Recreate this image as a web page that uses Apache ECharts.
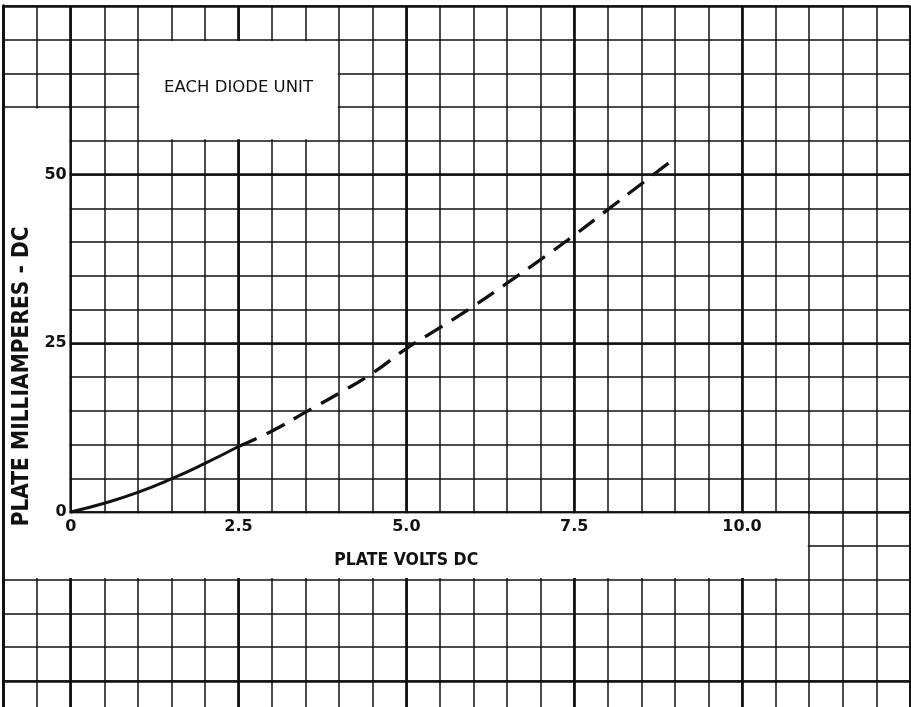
<!DOCTYPE html>
<html>
<head>
<meta charset="utf-8">
<title>Each diode unit - plate characteristic</title>
<script src="https://cdn.jsdelivr.net/npm/echarts@6/dist/echarts.min.js"></script>
<style>
html, body { margin: 0; padding: 0; background: #fff; }
#chart { width: 911px; height: 707px; }
</style>
</head>
<body>
<div id="chart"></div>
<script>
// measured part of the curve (solid) and the extrapolated part (dashed)
var voltsSolid = [0, 0.5, 1.0, 1.5, 2.0, 2.5];
var maSolid = [0, 1.3, 2.9, 4.9, 7.2, 9.7];
var voltsDashed = [2.5, 3.0, 3.5, 4.0, 4.5, 5.0, 5.5, 6.0, 6.5, 7.0, 7.5, 8.0, 8.5, 9.0];
var maDashed = [9.7, 12.0, 14.8, 17.6, 20.6, 24.2, 27.3, 30.5, 33.9, 37.4, 41.0, 44.8, 48.6, 52.4];

var xTicks = [0, 2.5, 5.0, 7.5, 10.0];
var yTicks = [0, 25, 50];

var noteText = 'EACH DIODE UNIT';
var xName = 'PLATE VOLTS DC';
var yName = 'PLATE MILLIAMPERES - DC';

// sheet layout: where 0 V / 0 mA sit and how big one unit is, in px
var x0 = 70.7, y0 = 512;
var pxV = 67.13, pxMa = 6.75;
var sheetTop = y0 - 75 * pxMa;
var ink = '#111';
var thin = 1.5, thick = 2.7;

function pairs(xs, ys) {
	var out = [];
	for (var i = 0; i < xs.length; i++) out.push([xs[i], ys[i]]);
	return out;
}

// white boxes cut out of the grid paper, kept just inside the ruling
var dx = 1.4 / pxV, dy = 1.4 / pxMa;
function box(x1, y1, x2, y2, extra) {
	var a = { xAxis: x1 + dx, yAxis: y2 - dy };
	if (extra) for (var k in extra) a[k] = extra[k];
	return [a, { xAxis: x2 - dx, yAxis: y1 + dy }];
}

function off() { return { show: false }; }
function labelFont(extra) {
	var o = { fontFamily: 'DejaVu Sans', fontWeight: 'bold', fontSize: 16, color: ink };
	for (var k in extra) o[k] = extra[k];
	return o;
}
function nameFont(size, padding) {
	return { fontFamily: 'DejaVu Sans Condensed', fontWeight: 'bold', fontSize: size, color: ink, padding: padding };
}

var myChart = echarts.init(document.getElementById('chart'), null, { renderer: 'canvas' });

var option = {
	backgroundColor: '#fff',
	animation: false,
	grid: [
		// 0: fine verticals, full sheet height
		{ left: x0 - pxV, width: 13.5 * pxV, top: sheetTop, height: 707 - sheetTop },
		// 1: heavy verticals every 2.5 V
		{ left: x0, width: 12.5 * pxV, top: sheetTop, height: 707 - sheetTop },
		// 2: horizontals + the curve
		{ left: x0 - pxV, width: 13.5 * pxV, top: sheetTop, height: 100 * pxMa },
		// 3: labels only, origin at the corner
		{ left: x0, width: 12.5 * pxV, top: sheetTop, height: 75 * pxMa }
	],
	xAxis: [
		{
			type: 'value', gridIndex: 0, min: -1, max: 12.5, interval: 0.5,
			axisLine: { show: false, onZero: false }, axisTick: off(), axisLabel: off(),
			splitLine: { show: true, lineStyle: { color: ink, width: thin } }
		},
		{
			type: 'value', gridIndex: 1, min: 0, max: 12.5, interval: 2.5,
			axisLine: { show: false, onZero: false }, axisTick: off(), axisLabel: off(),
			splitLine: { show: true, lineStyle: { color: ink, width: thick } }
		},
		{ type: 'value', gridIndex: 2, min: -1, max: 12.5, show: false },
		{
			type: 'value', gridIndex: 3, min: 0, max: 12.5, z: 5,
			axisLine: { show: false, onZero: false }, axisTick: off(),
			splitLine: off(),
			axisLabel: labelFont({
				customValues: xTicks, margin: 7,
				formatter: function (v) { return v === 0 ? '0' : v.toFixed(1); }
			}),
			name: xName, nameLocation: 'middle', nameGap: 39,
			nameTextStyle: nameFont(17.5, [0, 168, 0, 0])
		}
	],
	yAxis: [
		{
			// left edge of the sheet
			type: 'value', gridIndex: 0, min: 0, max: 1,
			axisLine: { show: true, onZero: false, lineStyle: { color: ink, width: 3 } },
			axisTick: off(), axisLabel: off(), splitLine: off()
		},
		{ type: 'value', gridIndex: 1, min: 0, max: 1, show: false },
		{
			type: 'value', gridIndex: 2, min: -25, max: 75, interval: 5,
			axisLine: { show: false, onZero: false }, axisTick: off(), axisLabel: off(),
			splitLine: { show: true, lineStyle: { color: ink, width: thin } }
		},
		{
			type: 'value', gridIndex: 2, min: -25, max: 75, interval: 25,
			axisLine: { show: false, onZero: false }, axisTick: off(), axisLabel: off(),
			splitLine: { show: true, lineStyle: { color: ink, width: thick } }
		},
		{
			type: 'value', gridIndex: 3, min: 0, max: 75, z: 5,
			axisLine: { show: false, onZero: false }, axisTick: off(),
			splitLine: off(),
			axisLabel: labelFont({ customValues: yTicks, margin: 4 }),
			name: yName, nameLocation: 'middle', nameGap: 32, nameRotate: 90,
			nameTextStyle: nameFont(22.5, [0, 235, 0, 0])
		}
	],
	series: [
		{
			// carries only the white boxes
			type: 'line', xAxisIndex: 2, yAxisIndex: 2, z: 1, data: [], silent: true,
			markArea: {
				silent: true,
				itemStyle: { color: '#fff', borderWidth: 0 },
				label: { show: false },
				data: [
					box(1.0, 55, 4.0, 70, {
						name: noteText,
						label: {
							show: true, position: 'inside', offset: [0, -2],
							fontFamily: 'DejaVu Sans', fontSize: 16.5, color: ink
						}
					}),
					box(-1.0, -10, 0, 60),
					box(-1.0, -10, 11.0, 0)
				]
			}
		},
		{
			type: 'line', xAxisIndex: 2, yAxisIndex: 2, z: 3,
			smooth: true, showSymbol: false, silent: true,
			data: pairs(voltsSolid, maSolid),
			lineStyle: { color: ink, width: 3 }
		},
		{
			type: 'line', xAxisIndex: 2, yAxisIndex: 2, z: 3,
			smooth: true, showSymbol: false, silent: true,
			data: pairs(voltsDashed, maDashed),
			lineStyle: { color: ink, width: 3.3, type: [20, 11] }
		}
	]
};

myChart.setOption(option);
window.addEventListener('resize', function () { myChart.resize(); });
</script>
</body>
</html>
